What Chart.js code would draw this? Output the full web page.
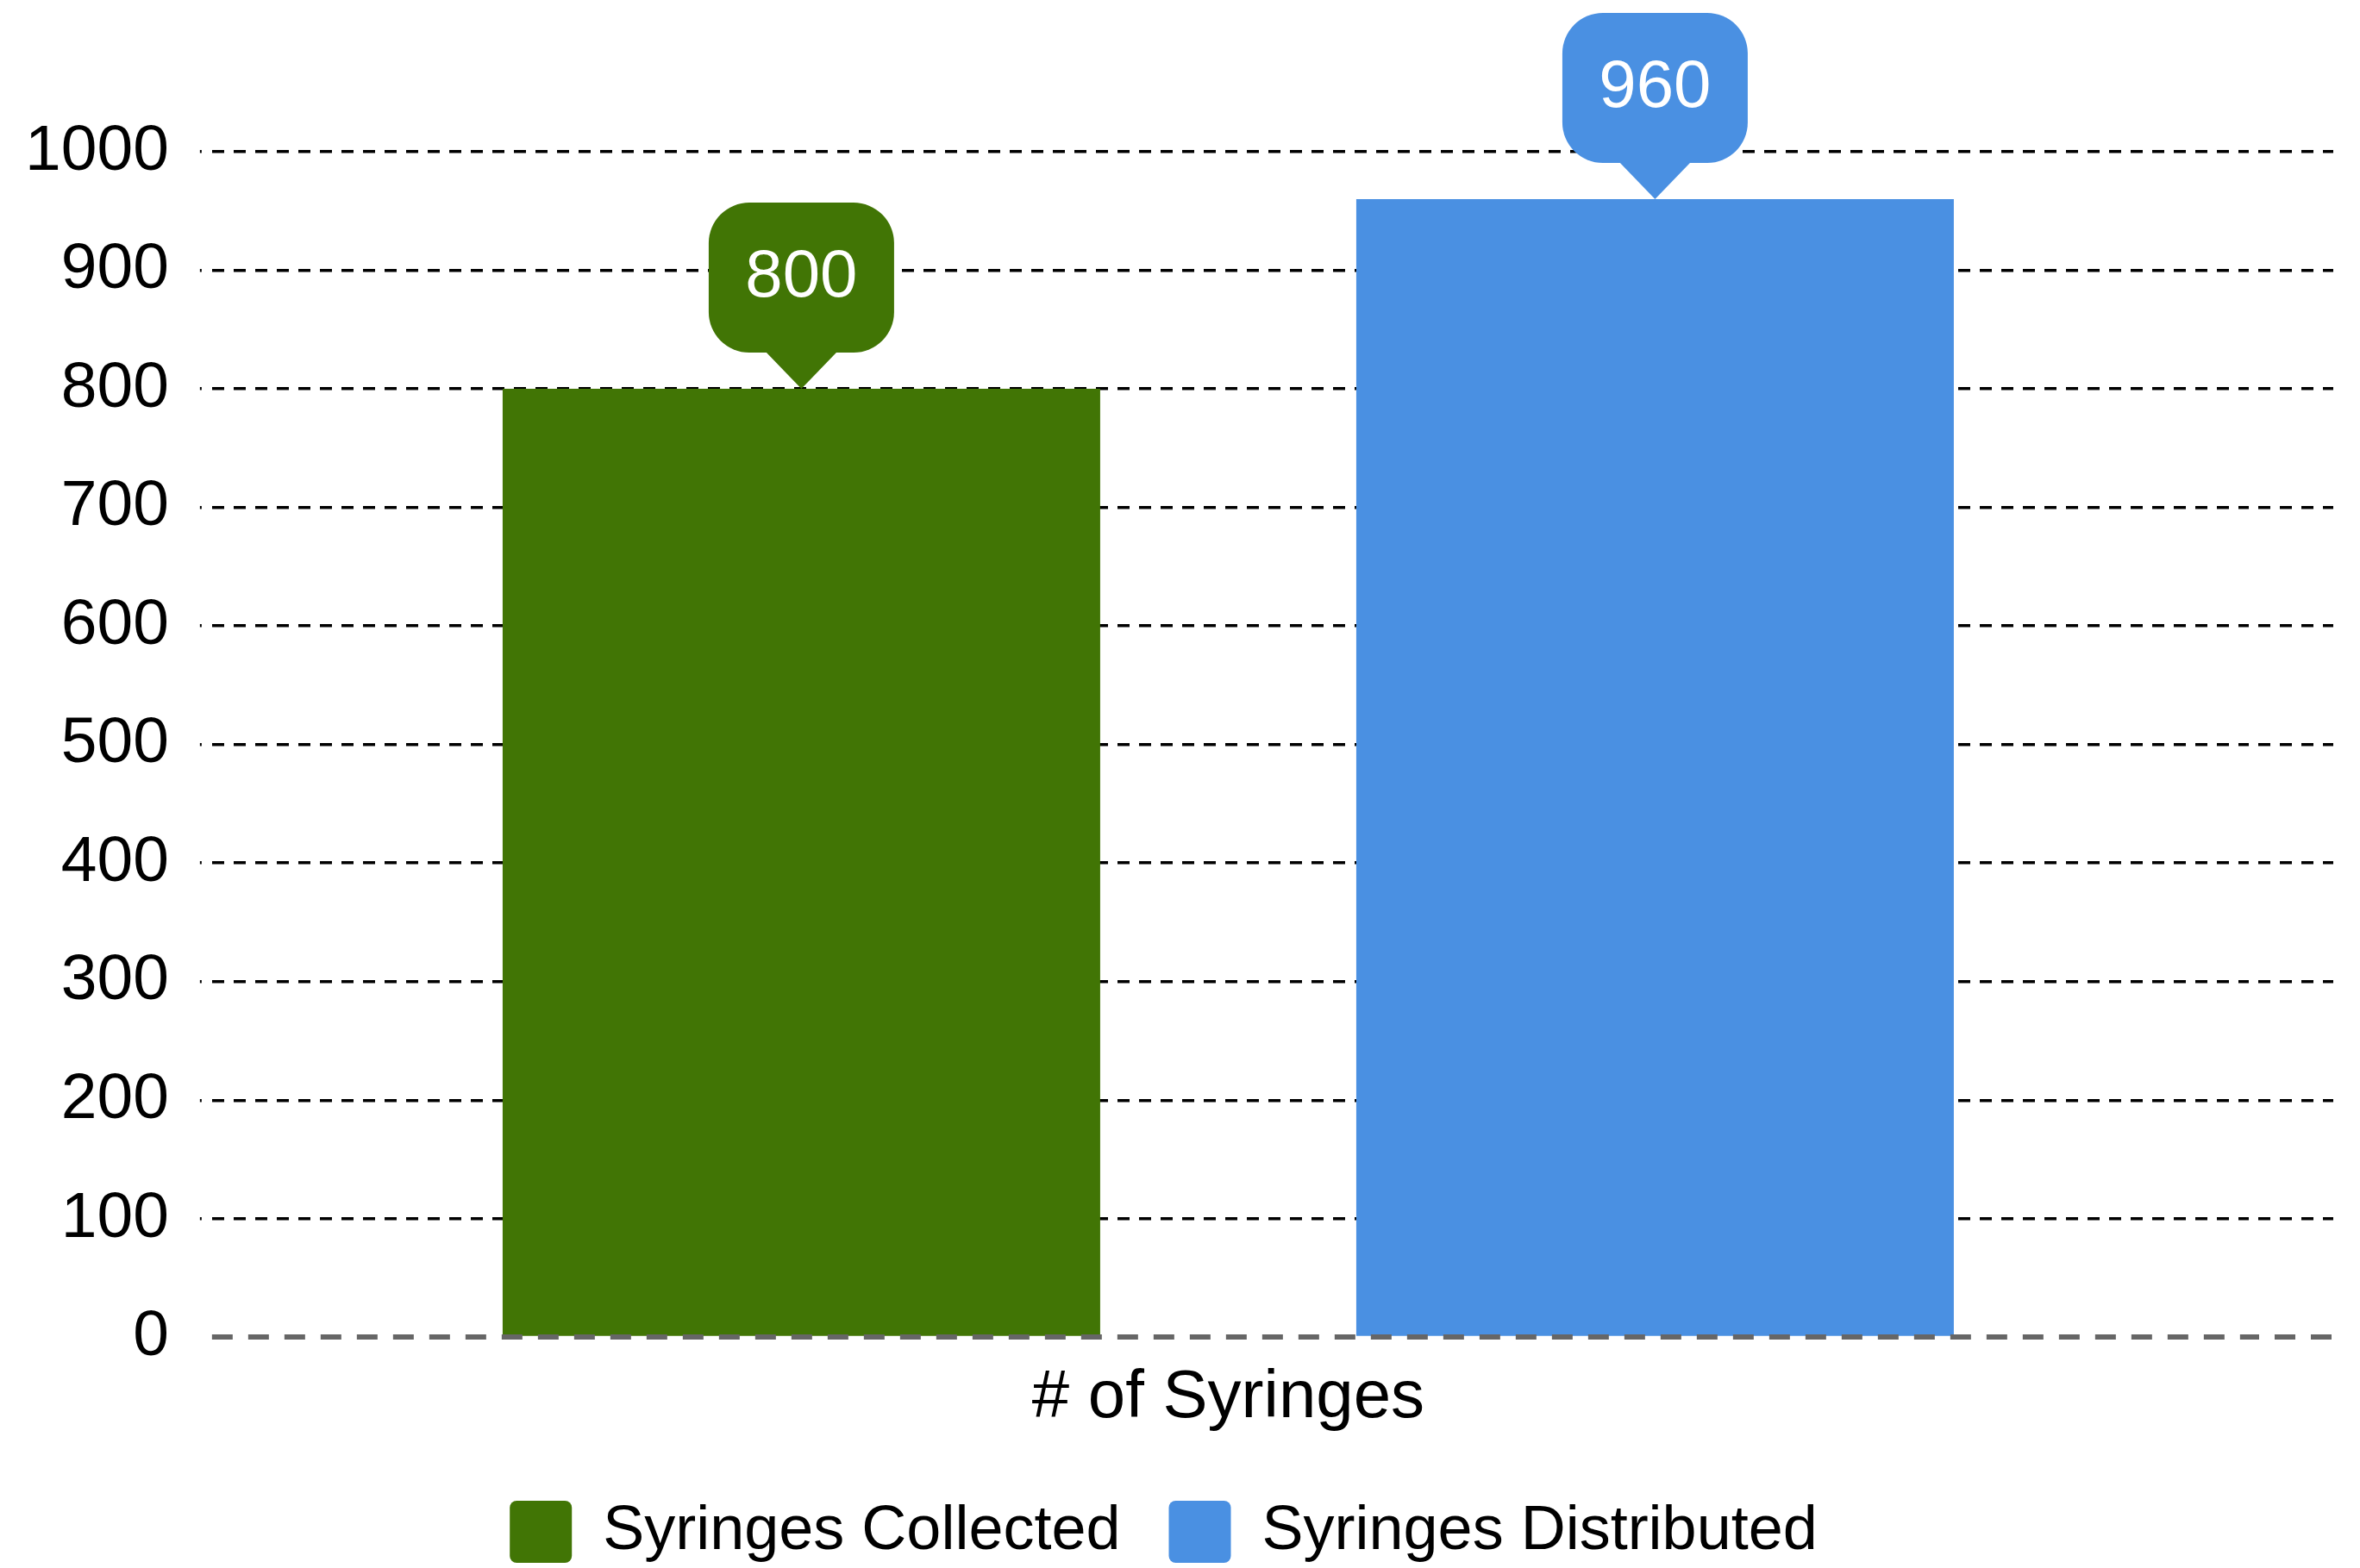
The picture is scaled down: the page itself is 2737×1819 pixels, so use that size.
<!DOCTYPE html>
<html>
<head>
<meta charset="utf-8">
<script src="https://cdn.jsdelivr.net/npm/chart.js@4.4.1/dist/chart.umd.min.js"></script>
<style>
  html, body { margin: 0; padding: 0; background: #fff; }
  #wrap { width: 2737px; height: 1819px; }
</style>
</head>
<body>
<div id="wrap"><canvas id="chart"></canvas></div>
<script>
// values
const categories = ['# of Syringes'];
const seriesNames = ['Syringes Collected', 'Syringes Distributed'];
const collected = [800];
const distributed = [960];
const yTickValues = [0, 100, 200, 300, 400, 500, 600, 700, 800, 900, 1000];

const seriesColors = ['#417505', '#4a90e2'];
const family = "'Liberation Sans', Arial, sans-serif";
const isZero = c => c.tick && c.tick.value === 0;

// speech-bubble value labels above each bar
const callouts = {
  id: 'callouts',
  afterDatasetsDraw(chart) {
    const ctx = chart.ctx;
    chart.data.datasets.forEach((ds, i) => {
      chart.getDatasetMeta(i).data.forEach((bar, j) => {
        const w = 215, h = 174, r = 47, tip = 42, half = 41.5;
        const x = bar.x, y = bar.y;
        const bottom = y - tip, top = bottom - h;
        ctx.save();
        ctx.fillStyle = ds.backgroundColor;
        ctx.beginPath();
        ctx.roundRect(x - w / 2, top, w, h, r);
        ctx.fill();
        ctx.beginPath();
        ctx.moveTo(x - half, bottom - 1);
        ctx.lineTo(x + half, bottom - 1);
        ctx.lineTo(x, y);
        ctx.closePath();
        ctx.fill();
        ctx.fillStyle = '#fff';
        ctx.font = '78px ' + family;
        ctx.textAlign = 'center';
        ctx.textBaseline = 'middle';
        ctx.fillText(String(ds.data[j]), x, top + h / 2);
        ctx.restore();
      });
    });
  }
};

const setTicks = s => { s.ticks = yTickValues.map(value => ({ value })); };

new Chart(document.getElementById('chart'), {
  type: 'bar',
  data: {
    labels: categories,
    datasets: [
      { label: seriesNames[0], data: collected, backgroundColor: seriesColors[0] },
      { label: seriesNames[1], data: distributed, backgroundColor: seriesColors[1] }
    ]
  },
  options: {
    responsive: true,
    maintainAspectRatio: false,
    animation: false,
    layout: { padding: { top: 176, left: -7, right: 31, bottom: -4 } },
    datasets: { bar: { categoryPercentage: 0.84, barPercentage: 0.7, borderWidth: 0 } },
    scales: {
      x: {
        ticks: { display: false },
        grid: { display: false, drawTicks: false },
        border: { display: false },
        title: {
          display: true,
          text: categories[0],
          color: '#000',
          font: { size: 78, family },
          padding: { top: 24, bottom: 16 }
        }
      },
      y: {
        position: 'left',
        min: 0,
        max: 1000,
        afterBuildTicks: setTicks,
        ticks: { color: '#000', font: { size: 75, family }, padding: 36, callback: v => String(v) },
        grid: {
          color: c => isZero(c) ? 'rgba(0,0,0,0)' : '#000',
          lineWidth: 3.5,
          tickLength: 14,
          tickColor: c => isZero(c) ? 'rgba(0,0,0,0)' : '#000',
          tickWidth: 3.5,
          tickBorderDash: [2, 20]
        },
        border: { display: false, dash: [14, 11] }
      },
      // right-hand axis only carries the grid ends and the zero line (drawn over the bars)
      y2: {
        position: 'right',
        min: 0,
        max: 1000,
        afterBuildTicks: setTicks,
        ticks: { display: false },
        grid: {
          z: 1,
          color: c => isZero(c) ? '#666' : 'rgba(0,0,0,0)',
          lineWidth: c => isZero(c) ? 6 : 3.5,
          tickLength: 103,
          tickColor: c => isZero(c) ? '#666' : '#000',
          tickWidth: c => isZero(c) ? 6 : 3.5,
          tickBorderDash: c => isZero(c) ? [24, 18] : [14, 11],
          tickBorderDashOffset: c => isZero(c) ? 7 : 9
        },
        border: { display: false, dash: c => isZero(c) ? [24, 18] : [14, 11] }
      }
    },
    plugins: {
      tooltip: { enabled: false },
      legend: {
        position: 'bottom',
        labels: {
          boxWidth: 72,
          boxHeight: 72,
          color: '#000',
          font: { size: 72, family },
          padding: 56,
          useBorderRadius: true,
          borderRadius: 8
        }
      }
    }
  },
  plugins: [callouts]
});
</script>
</body>
</html>
